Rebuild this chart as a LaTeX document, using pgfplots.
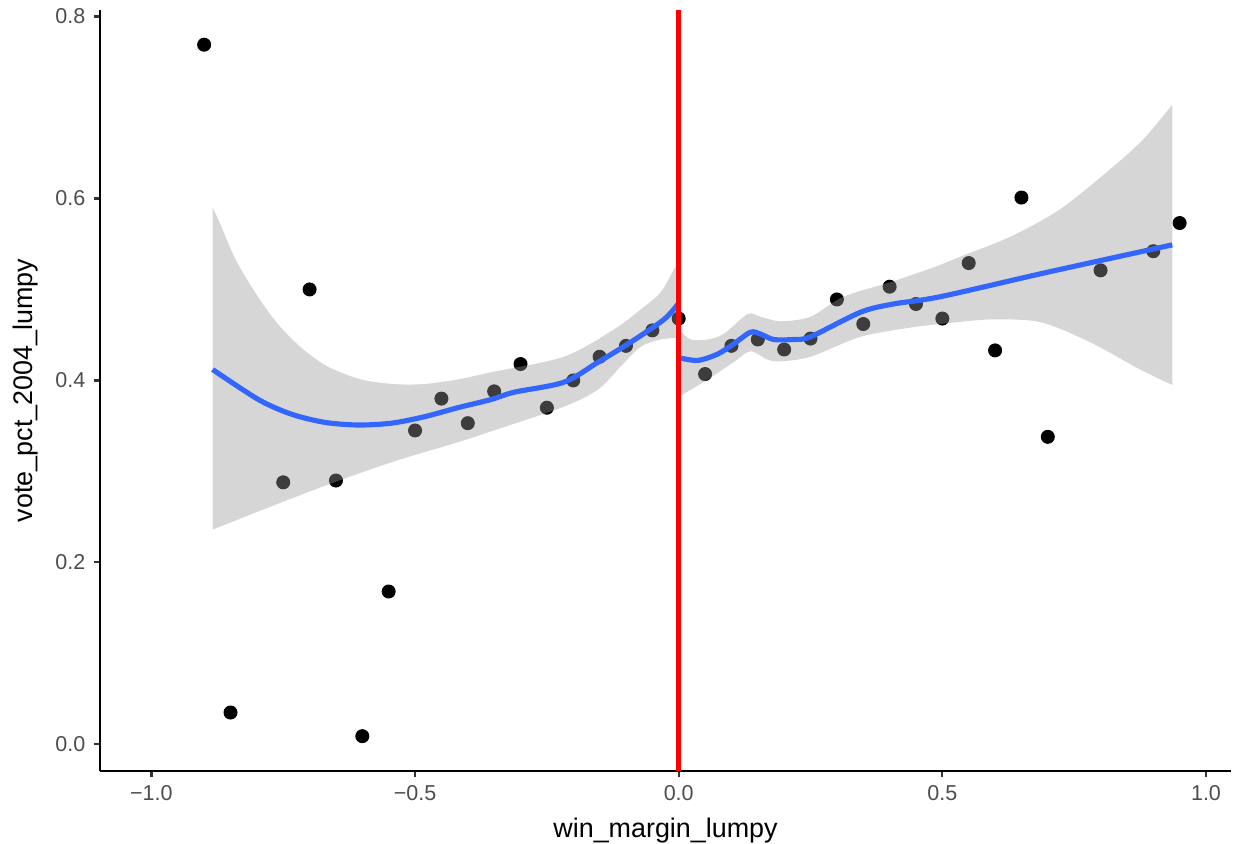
\documentclass[border=0pt]{standalone}
\usepackage{fontspec}
\setmainfont{Liberation Sans}
\usepackage{pgfplots}
\pgfplotsset{compat=1.18}
\usepgfplotslibrary{fillbetween}
\definecolor{smoothblue}{HTML}{3366FF}
\definecolor{ticktext}{HTML}{4D4D4D}
\definecolor{tickline}{HTML}{333333}

\begin{document}
\begin{tikzpicture}
\begin{axis}[
  set layers,
  clip mode=individual,
  at={(40.9pt,29.45pt)}, anchor=south west,
  scale only axis, width=462.6pt, height=311.2pt,
  xmin=-1.0975, xmax=1.0475, ymin=-0.0293, ymax=0.807,
  axis lines*=left,
  axis line style={-, line width=0.9pt, black},
  tick align=outside,
  major tick length=2.5pt,
  every tick/.style={tickline, line width=0.9pt},
  xtick={-1,-0.5,0,0.5,1},
  xticklabels={−1.0,−0.5,0.0,0.5,1.0},
  ytick={0,0.2,0.4,0.6,0.8},
  yticklabels={0.0,0.2,0.4,0.6,0.8},
  tick label style={font=\fontsize{8.8}{10}\selectfont, text=ticktext},
  xlabel={win\_margin\_lumpy},
  ylabel={vote\_pct\_2004\_lumpy},
  label style={font=\fontsize{11}{13}\selectfont},
]
% data points (below the ribbon)
\addplot[only marks, mark=*, mark size=2.66pt, black, mark layer=axis background, on layer=axis background] coordinates {
(-0.9,0.769)(-0.85,0.035)(-0.75,0.288)(-0.7,0.500)(-0.65,0.290)(-0.6,0.009)
(-0.55,0.168)(-0.5,0.345)(-0.45,0.380)(-0.4,0.353)(-0.35,0.388)(-0.3,0.418)
(-0.25,0.370)(-0.2,0.400)(-0.15,0.426)(-0.1,0.438)(-0.05,0.455)(0,0.468)
(0.05,0.407)(0.1,0.438)(0.15,0.445)(0.2,0.434)(0.25,0.446)(0.3,0.489)
(0.35,0.462)(0.4,0.503)(0.45,0.484)(0.5,0.468)(0.55,0.529)(0.6,0.433)
(0.65,0.601)(0.7,0.338)(0.8,0.521)(0.9,0.542)(0.95,0.573)};

% confidence ribbons
\addplot[draw=none, smooth, name path=lu] coordinates {
(-0.884,0.590)(-0.871,0.574)(-0.843,0.536)(-0.807,0.500)(-0.763,0.464)(-0.716,0.436)
(-0.665,0.415)(-0.602,0.401)(-0.540,0.396)(-0.483,0.396)(-0.419,0.401)(-0.356,0.409)
(-0.218,0.426)(-0.123,0.456)(-0.072,0.478)(-0.034,0.497)(-0.009,0.522)(0,0.527)};
\addplot[draw=none, smooth, name path=ll] coordinates {
(-0.884,0.236)(-0.797,0.256)(-0.672,0.284)(-0.545,0.310)(-0.419,0.332)(-0.356,0.344)
(-0.218,0.371)(-0.153,0.390)(-0.109,0.416)(-0.072,0.437)(-0.034,0.445)(0,0.447)};
\addplot[fill=black!40, fill opacity=0.4, draw=none] fill between[of=lu and ll];

\addplot[draw=none, smooth, name path=ru] coordinates {
(0,0.456)(0.023,0.445)(0.055,0.445)(0.085,0.451)(0.131,0.473)(0.155,0.470)
(0.193,0.465)(0.25,0.470)(0.3125,0.492)(0.407,0.509)(0.496,0.527)(0.534,0.536)
(0.629,0.558)(0.723,0.588)(0.818,0.632)(0.881,0.665)(0.936,0.703)};
\addplot[draw=none, smooth, name path=rl] coordinates {
(0,0.382)(0.055,0.401)(0.104,0.420)(0.136,0.432)(0.168,0.423)(0.193,0.421)(0.25,0.426)
(0.345,0.448)(0.439,0.458)(0.496,0.462)(0.591,0.467)(0.686,0.464)(0.780,0.442)
(0.875,0.412)(0.936,0.395)};
\addplot[fill=black!40, fill opacity=0.4, draw=none] fill between[of=ru and rl];

% loess fits
\addplot[smoothblue, line width=2.1pt, smooth] coordinates {
(-0.884,0.412)(-0.797,0.379)(-0.735,0.363)(-0.672,0.354)(-0.608,0.351)(-0.545,0.353)
(-0.483,0.360)(-0.419,0.370)(-0.356,0.379)(-0.3125,0.387)(-0.218,0.398)(-0.153,0.420)
(-0.091,0.442)(-0.028,0.467)(0,0.485)};
\addplot[smoothblue, line width=2.1pt, smooth] coordinates {
(0,0.425)(0.036,0.422)(0.074,0.429)(0.104,0.440)(0.136,0.453)(0.155,0.451)
(0.180,0.445)(0.218,0.445)(0.25,0.448)(0.345,0.475)(0.407,0.484)(0.496,0.492)
(0.7,0.519)(0.936,0.549)};

% cutoff
\addplot[red, line width=2.1pt] coordinates {(0,-0.0293)(0,0.807)};
\end{axis}
\pgfresetboundingbox
\path (0,0) rectangle (504.3pt,344.8pt);
\end{tikzpicture}
\end{document}
